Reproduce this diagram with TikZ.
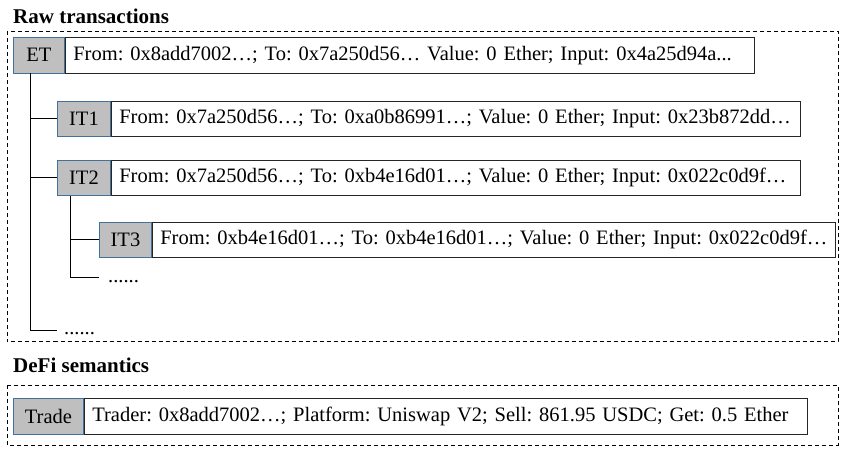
\documentclass[tikz,border=0pt]{standalone}
\usepackage{fontspec}
\setmainfont{Liberation Serif}
\frenchspacing
\definecolor{tagfill}{HTML}{BFBFBF}
\definecolor{tagedge}{HTML}{41719C}
\newcommand{\lefttext}[1]{\makebox[\linewidth][l]{#1}}
\begin{document}
\begin{tikzpicture}[x=1pt,y=-1pt,
  font=\fontsize{20.5}{24}\selectfont,
  tag/.style={draw=tagedge, line width=0.9pt, fill=tagfill, anchor=north west, inner sep=0pt, minimum height=35.5pt},
  info/.style={draw=black!85, line width=0.9pt, fill=white, anchor=north west, inner ysep=0pt, inner xsep=8pt, minimum height=35.5pt},
  groupbox/.style={draw=black, line width=1pt, dash pattern=on 4pt off 3pt},
  title/.style={font=\fontsize{21}{24}\selectfont\bfseries, anchor=base west, inner sep=0pt},
  tree/.style={draw=black, line width=1pt},
  more/.style={anchor=base west, inner sep=0pt}
]
\useasboundingbox (0,0) rectangle (847,456);

% titles
\node[title] (t1) at (13,23) {Raw transactions};
\node[title] (t2) at (13,372.5) {DeFi semantics};

% group boxes
\draw[groupbox] (7,31) rectangle (838,341.5);
\draw[groupbox] (7,385) rectangle (838,445);

% ET
\node[tag, minimum width=51pt] (et) at (13,37) {ET};
\node[info, text width=673pt] (etd) at (et.north east)
  {\lefttext{From: 0x8add7002…; To: 0x7a250d56… Value: 0 Ether; Input: 0x4a25d94a...}};

% IT1
\node[tag, minimum width=53pt] (it1) at (57,100.5) {IT1};
\node[info, text width=673pt] (it1d) at (it1.north east)
  {\lefttext{From: 0x7a250d56…; To: 0xa0b86991…; Value: 0 Ether; Input: 0x23b872dd…}};

% IT2
\node[tag, minimum width=53pt] (it2) at (57,159.5) {IT2};
\node[info, text width=673pt] (it2d) at (it2.north east)
  {\lefttext{From: 0x7a250d56…; To: 0xb4e16d01…; Value: 0 Ether; Input: 0x022c0d9f…}};

% IT3
\node[tag, minimum width=52pt] (it3) at (99,221.5) {IT3};
\node[info, text width=667pt] (it3d) at (it3.north east)
  {\lefttext{From: 0xb4e16d01…; To: 0xb4e16d01…; Value: 0 Ether; Input: 0x022c0d9f…}};

% more markers
\node[more] (m2) at (108,282) {......};
\node[more] (m1) at (64,334) {......};
\coordinate (m2a) at (99,277);
\coordinate (m1a) at (57,330);

% tree connectors
\coordinate (trunk1) at (30,0);
\coordinate (trunk2) at (70.7,0);
\draw[tree] (trunk1 |- et.south) -- (trunk1 |- m1a) -- (m1a);
\draw[tree] (trunk1 |- it1.west) -- (it1.west);
\draw[tree] (trunk1 |- it2.west) -- (it2.west);
\draw[tree] (trunk2 |- it2.south) -- (trunk2 |- m2a) -- (m2a);
\draw[tree] (trunk2 |- it3.west) -- (it3.west);

% Trade
\node[tag, minimum width=70pt] (tr) at (13,398) {Trade};
\node[info, text width=707pt] (trd) at (tr.north east)
  {\lefttext{Trader: 0x8add7002…; Platform: Uniswap V2; Sell: 861.95 USDC; Get: 0.5 Ether}};
\end{tikzpicture}
\end{document}
